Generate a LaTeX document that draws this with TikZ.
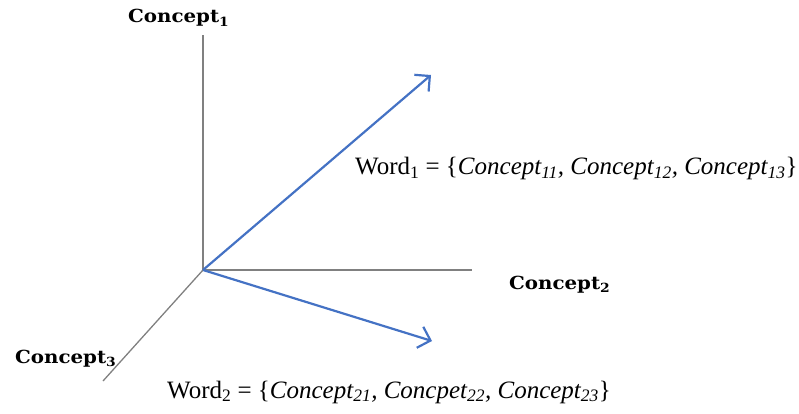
\documentclass[tikz,border=0pt]{standalone}
\usepackage{fontspec}
\usepackage{graphicx}
\setmainfont{Liberation Serif}
\newfontfamily\axisfont{DejaVu Serif}
\newcommand{\axistext}[1]{\scalebox{1.1}[1]{#1}}
\usetikzlibrary{arrows.meta}

\definecolor{axisgray}{RGB}{128,128,128}
\definecolor{vecblue}{RGB}{68,114,196}

\tikzset{
  axis/.style={draw=axisgray, line width=1.3pt},
  vec/.style={draw=vecblue, line width=2.2pt, -{Straight Barb[length=11pt,width=22pt,line width=2.2pt]}},
  axislabel/.style={font=\axisfont\bfseries\fontsize{18}{21}\selectfont, inner sep=0pt, anchor=base west},
  wordlabel/.style={font=\fontsize{25}{29}\selectfont, inner sep=0pt, anchor=base west}
}

\begin{document}
\begin{tikzpicture}[x=1pt,y=-1pt]
\useasboundingbox (0,0) rectangle (799,414);

\coordinate (origin) at (203,270);
\coordinate (end1) at (203,35);
\coordinate (end2) at (472,270);
\coordinate (end3) at (103,381);
\coordinate (tip1) at (431,75);
\coordinate (tip2) at (432,341);

% axes
\draw[axis] (origin) -- (end1);
\draw[axis] (origin) -- (end2);
\draw[axis] (origin) -- (end3);

% word vectors
\draw[vec] (origin) -- (tip1);
\draw[vec] (origin) -- (tip2);

\node[axislabel] (concept1) at (128,23) {\axistext{Concept\textsubscript{1}}};
\node[axislabel] (concept2) at (509,289) {\axistext{Concept\textsubscript{2}}};
\node[axislabel] (concept3) at (15,363) {\axistext{Concept\textsubscript{3}}};

\node[wordlabel] (word1) at (355,175) {Word\textsubscript{1} = \{\textit{Concept\textsubscript{11}, Concept\textsubscript{12}, Concept\textsubscript{13}}\}};
\node[wordlabel] (word2) at (167,398) {Word\textsubscript{2} = \{\textit{Concept\textsubscript{21}, Concpet\textsubscript{22}, Concept\textsubscript{23}}\}};
\end{tikzpicture}
\end{document}
